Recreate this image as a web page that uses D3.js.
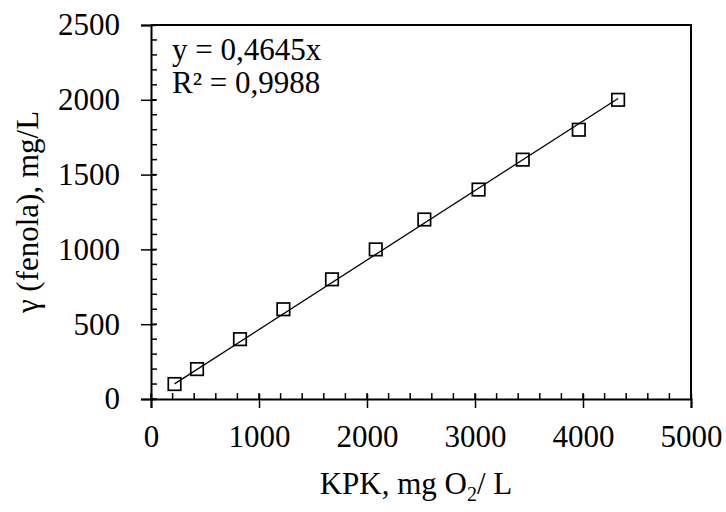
<!DOCTYPE html>
<html>
<head>
<meta charset="utf-8">
<script src="https://cdn.jsdelivr.net/npm/d3@7"></script>
<style>
  body { margin: 0; background: #fff; }
  text { font-family: "Liberation Serif", "Times New Roman", serif; fill: #000; }
</style>
</head>
<body>
<div id="chart"></div>
<script>
// data
var kpk = [218, 426, 824, 1226, 1676, 2081, 2531, 3033, 3442, 3961, 4325];
var fenol = [100, 200, 400, 600, 800, 1000, 1200, 1400, 1600, 1800, 2000];
var xTicks = [0, 1000, 2000, 3000, 4000, 5000];
var yTicks = [0, 500, 1000, 1500, 2000, 2500];
var slope = 0.4645;

var svgWidth = 726;
var svgHeight = 512;
var margin = { top: 25, right: 35, bottom: 113, left: 151 };
var chartWidth = svgWidth - margin.left - margin.right;
var chartHeight = svgHeight - margin.top - margin.bottom;
var fontSize = 31;

var svg = d3.select("#chart")
  .append("svg")
  .attr("width", svgWidth)
  .attr("height", svgHeight);

var chartGroup = svg.append("g")
  .attr("transform", `translate(${margin.left}, ${margin.top})`);

var x = d3.scaleLinear().domain([0, 5000]).range([0, chartWidth]);
var y = d3.scaleLinear().domain([0, 2500]).range([chartHeight, 0]);

// plot box (top and right)
chartGroup.append("path")
  .attr("d", `M0,0H${chartWidth}V${chartHeight}`)
  .attr("fill", "none")
  .attr("stroke", "#000")
  .attr("stroke-width", 2);

// minor ticks, inside
chartGroup.append("g")
  .selectAll("line")
  .data(d3.range(0, 5001, 200))
  .enter()
  .append("line")
  .attr("x1", d => x(d)).attr("x2", d => x(d))
  .attr("y1", chartHeight).attr("y2", chartHeight - 6)
  .attr("stroke", "#000").attr("stroke-width", 1.5);

chartGroup.append("g")
  .selectAll("line")
  .data(d3.range(0, 2501, 100))
  .enter()
  .append("line")
  .attr("y1", d => y(d)).attr("y2", d => y(d))
  .attr("x1", 0).attr("x2", 6)
  .attr("stroke", "#000").attr("stroke-width", 1.5);

// axes, major ticks crossing the axis line
var bottomAxis = d3.axisBottom(x).tickValues(xTicks).tickSize(9).tickPadding(17).tickFormat(d3.format("d"));
var leftAxis = d3.axisLeft(y).tickValues(yTicks).tickSize(10).tickPadding(21).tickFormat(d3.format("d"));

var xg = chartGroup.append("g")
  .attr("transform", `translate(0, ${chartHeight})`)
  .call(bottomAxis);
var yg = chartGroup.append("g")
  .call(leftAxis);

[xg, yg].forEach(function(g) {
  g.select(".domain").attr("stroke", "#000").attr("stroke-width", 2);
  g.selectAll(".tick line").attr("stroke", "#000").attr("stroke-width", 1.5);
  g.selectAll(".tick text")
    .style("font-family", "'Liberation Serif', 'Times New Roman', serif")
    .style("font-size", fontSize + "px")
    .attr("fill", "#000");
});
xg.selectAll(".tick line").attr("y1", -5);
yg.selectAll(".tick line").attr("x1", 5);

// trendline over the data range
var xMin = d3.min(kpk), xMax = d3.max(kpk);
chartGroup.append("line")
  .attr("x1", x(xMin)).attr("y1", y(slope * xMin))
  .attr("x2", x(xMax)).attr("y2", y(slope * xMax))
  .attr("stroke", "#000")
  .attr("stroke-width", 1.3);

// square markers
var s = 12.5;
chartGroup.selectAll("rect.pt")
  .data(kpk)
  .enter()
  .append("rect")
  .attr("class", "pt")
  .attr("x", (d, i) => x(d) - s / 2)
  .attr("y", (d, i) => y(fenol[i]) - s / 2)
  .attr("width", s)
  .attr("height", s)
  .attr("fill", "none")
  .attr("stroke", "#000")
  .attr("stroke-width", 1.7);

// equation
chartGroup.append("text")
  .attr("x", 21).attr("y", 35)
  .style("font-size", fontSize + "px")
  .text("y = 0,4645x");
chartGroup.append("text")
  .attr("x", 21).attr("y", 68)
  .style("font-size", fontSize + "px")
  .text("R² = 0,9988");

// axis titles
var xt = svg.append("text")
  .attr("x", 416)
  .attr("y", 494)
  .attr("text-anchor", "middle")
  .style("font-size", fontSize + "px");
xt.append("tspan").text("KPK, mg O");
xt.append("tspan").attr("dy", 7).style("font-size", "20px").text("2");
xt.append("tspan").attr("dy", -7).text("/ L");

svg.append("text")
  .attr("transform", `translate(38, ${margin.top + chartHeight / 2}) rotate(-90)`)
  .attr("text-anchor", "middle")
  .style("font-size", fontSize + "px")
  .text("γ (fenola), mg/L");
</script>
</body>
</html>
